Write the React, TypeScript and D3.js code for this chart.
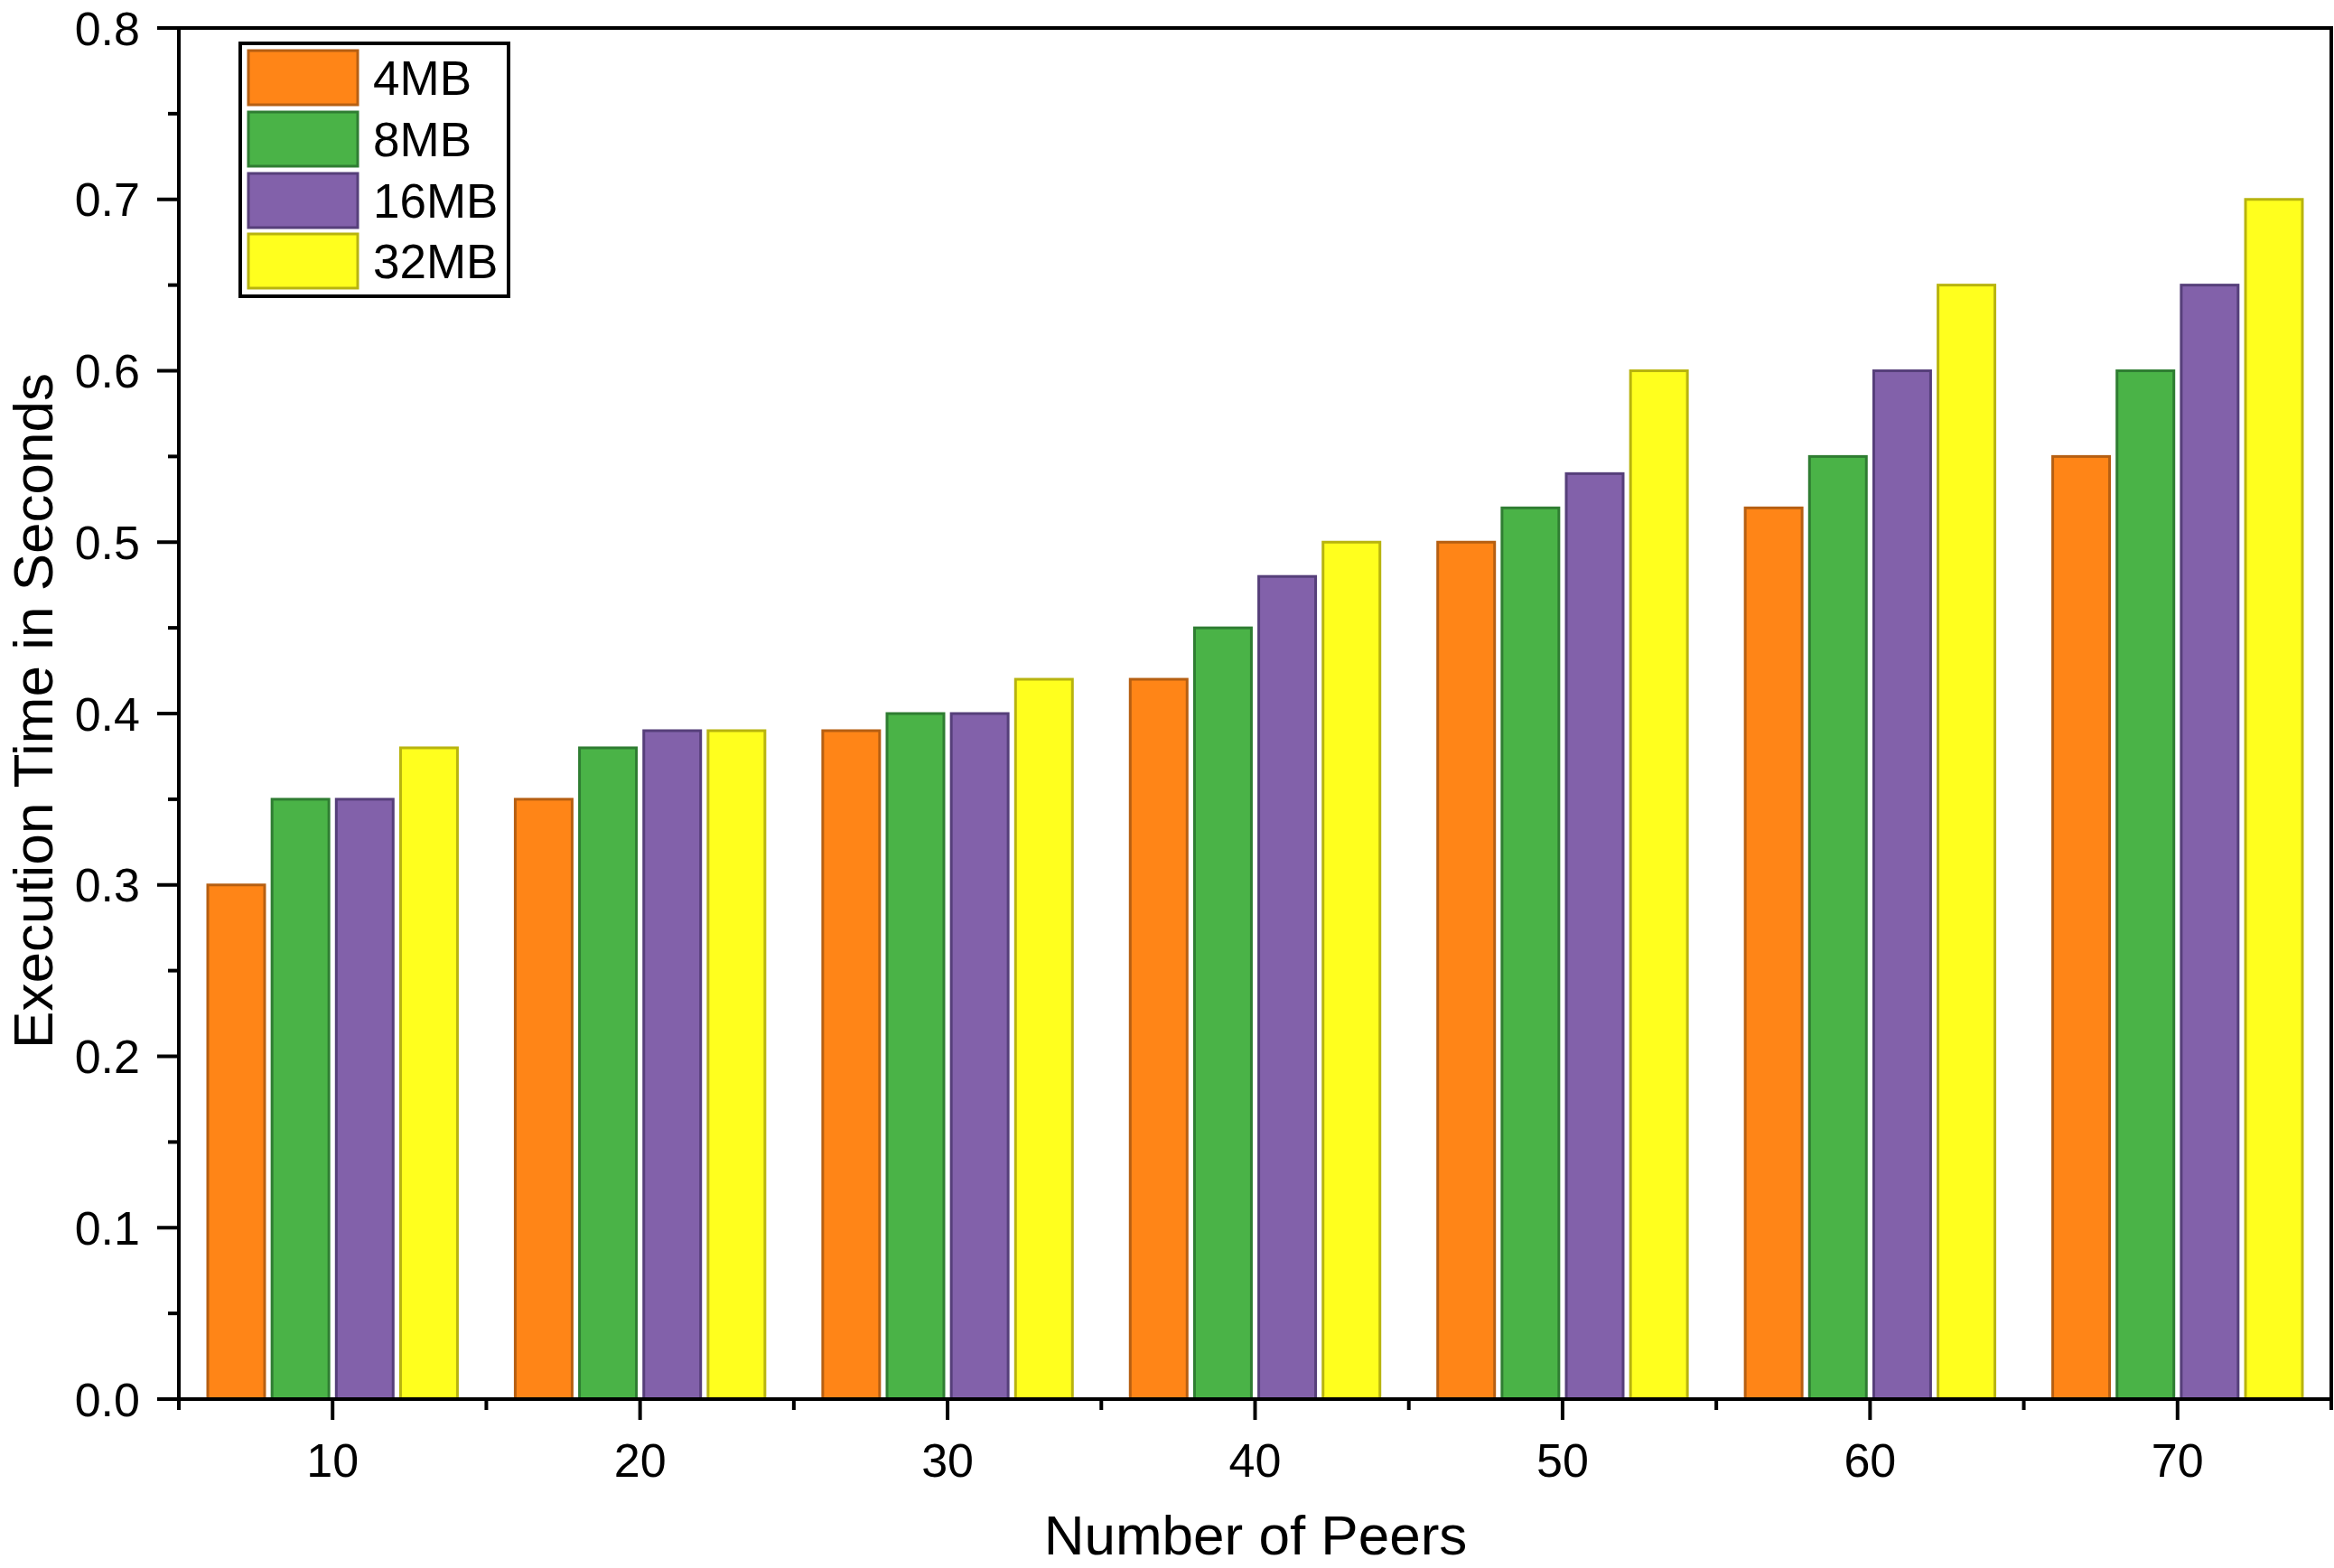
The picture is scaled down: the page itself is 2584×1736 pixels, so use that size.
import * as d3 from 'd3'

const peers = [10, 20, 30, 40, 50, 60, 70]
const seriesNames = ['4MB', '8MB', '16MB', '32MB']
const time4MB = [0.3, 0.35, 0.39, 0.42, 0.5, 0.52, 0.55]
const time8MB = [0.35, 0.38, 0.4, 0.45, 0.52, 0.55, 0.6]
const time16MB = [0.35, 0.39, 0.4, 0.48, 0.54, 0.6, 0.65]
const time32MB = [0.38, 0.39, 0.42, 0.5, 0.6, 0.65, 0.7]
const yMajorTicks = [0, 0.1, 0.2, 0.3, 0.4, 0.5, 0.6, 0.7, 0.8]
const xMajorTicks = [10, 20, 30, 40, 50, 60, 70]

const seriesValues = [time4MB, time8MB, time16MB, time32MB]
const fills = ['#ff8517', '#4ab347', '#8261aa', '#ffff1e']
const strokes = ['#b65f12', '#2f7d32', '#563f7a', '#b8b40f']

const W = 2584
const H = 1736
const left = 198
const right = 2581
const top = 31
const bottom = 1549
const font = '"Liberation Sans", Arial, sans-serif'

// bar geometry in x-axis units
const barPitch = 2.09
const barWidth = 1.85

export default function App() {
  const x = d3.scaleLinear().domain([5, 75]).range([left, right])
  const y = d3.scaleLinear().domain([0, 0.8]).range([bottom, top])
  const yMinor = d3.range(0.05, 0.8, 0.1)
  const xMinor = d3.range(5, 76, 10)
  const fmt = d3.format('.1f')

  const legendRows = [56, 124, 192, 259]

  return (
    <svg
      width={W}
      height={H}
      viewBox={`0 0 ${W} ${H}`}
      style={{ position: 'absolute', left: 0, top: 0, background: '#fff' }}
      fontFamily={font}
    >
      <rect width={W} height={H} fill="#fff" />

      {/* bars */}
      {peers.map((p, i) => (
        <g key={p}>
          {seriesValues.map((vals, j) => {
            const cx = p + (j - 1.5) * barPitch
            const x0 = x(cx - barWidth / 2)
            const x1 = x(cx + barWidth / 2)
            return (
              <rect
                key={j}
                x={x0}
                y={y(vals[i])}
                width={x1 - x0}
                height={y(0) - y(vals[i])}
                fill={fills[j]}
                stroke={strokes[j]}
                strokeWidth={3}
              />
            )
          })}
        </g>
      ))}

      {/* frame */}
      <path
        d={`M${left},${top}H${right}V${bottom}H${left}Z`}
        fill="none"
        stroke="#000"
        strokeWidth={4}
        strokeLinecap="square"
      />

      {/* y ticks */}
      {yMajorTicks.map((t) => (
        <g key={t}>
          <line x1={left - 24} x2={left} y1={y(t)} y2={y(t)} stroke="#000" strokeWidth={4} />
          <text x={155} y={y(t)} dy="0.36em" textAnchor="end" fontSize={52}>
            {fmt(t)}
          </text>
        </g>
      ))}
      {yMinor.map((t) => (
        <line key={t} x1={left - 12} x2={left} y1={y(t)} y2={y(t)} stroke="#000" strokeWidth={4} />
      ))}

      {/* x ticks */}
      {xMajorTicks.map((t) => (
        <g key={t}>
          <line x1={x(t)} x2={x(t)} y1={bottom} y2={bottom + 23} stroke="#000" strokeWidth={4} />
          <text x={x(t)} y={1635} textAnchor="middle" fontSize={52}>
            {t}
          </text>
        </g>
      ))}
      {xMinor.map((t) => (
        <line key={t} x1={x(t)} x2={x(t)} y1={bottom} y2={bottom + 12} stroke="#000" strokeWidth={4} />
      ))}

      {/* axis titles */}
      <text x={1390} y={1721} textAnchor="middle" fontSize={62}>
        Number of Peers
      </text>
      <text
        transform={`translate(58,787) rotate(-90)`}
        textAnchor="middle"
        fontSize={62}
      >
        Execution Time in Seconds
      </text>

      {/* legend */}
      <rect x={266} y={48} width={297} height={280} fill="#fff" stroke="#000" strokeWidth={4} />
      {seriesNames.map((name, j) => (
        <g key={name}>
          <rect
            x={275}
            y={legendRows[j]}
            width={121}
            height={60}
            fill={fills[j]}
            stroke={strokes[j]}
            strokeWidth={3}
          />
          <text x={413} y={legendRows[j] + 49} fontSize={53}>
            {name}
          </text>
        </g>
      ))}
    </svg>
  )
}
